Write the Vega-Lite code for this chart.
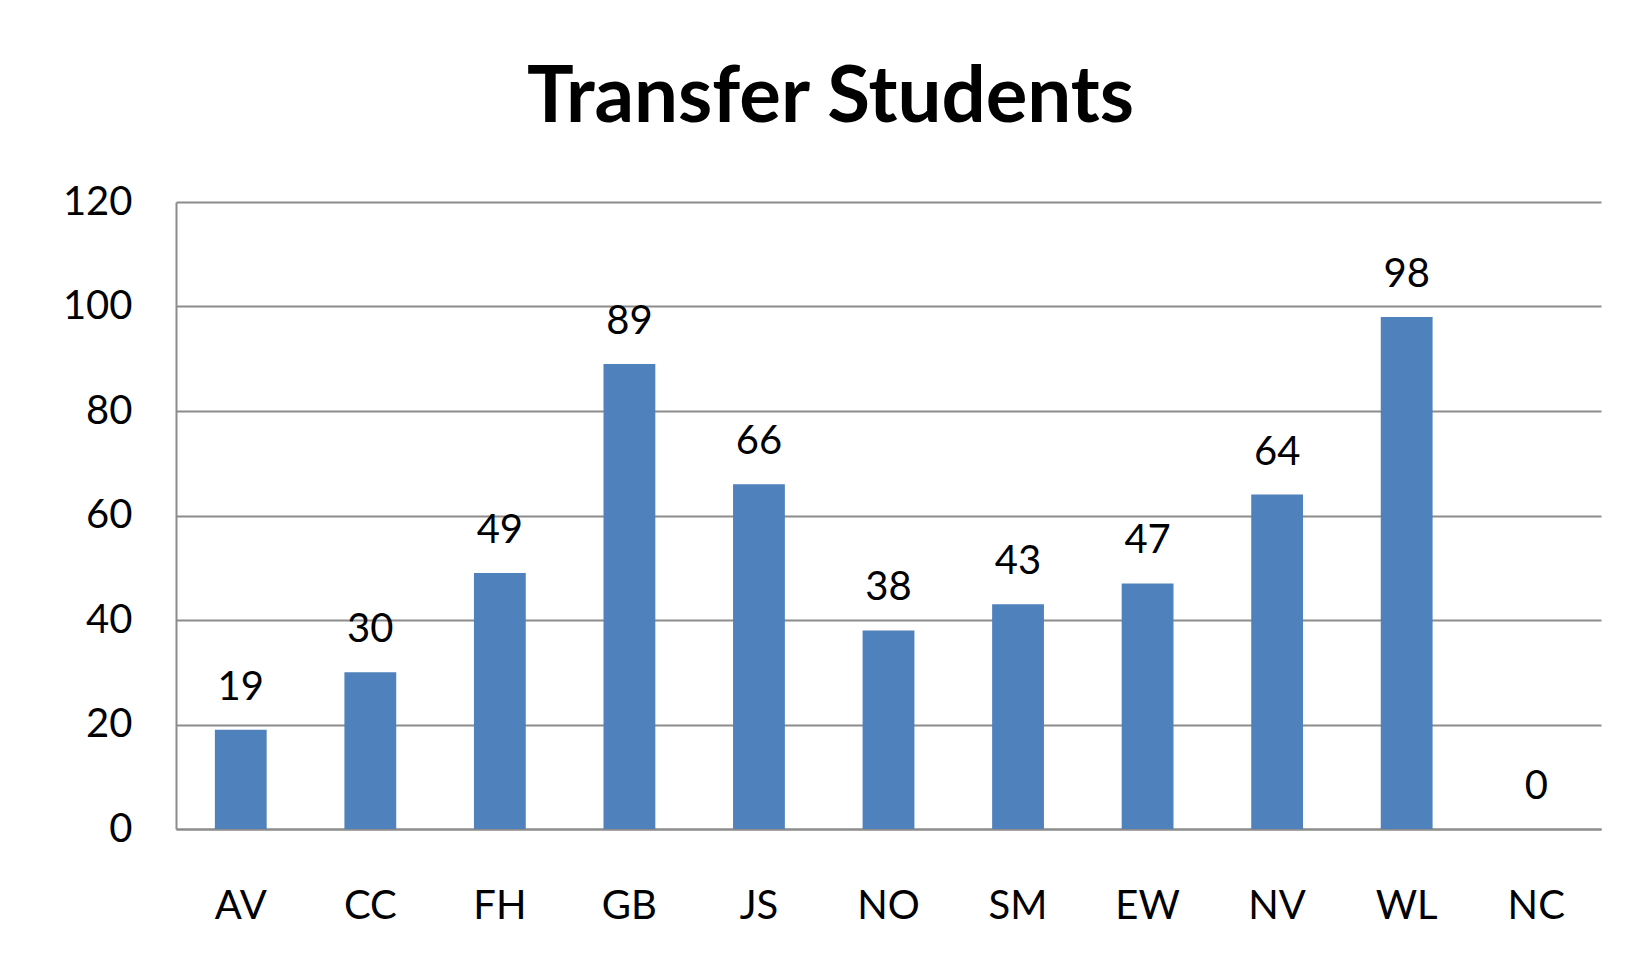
{
  "$schema": "https://vega.github.io/schema/vega-lite/v6.json",
  "width": 1425,
  "height": 627,
  "autosize": {"type": "none"},
  "padding": {"left": 176, "top": 202, "right": 47, "bottom": 149},
  "background": "white",
  "title": {
    "text": "Transfer Students",
    "font": "Lato",
    "fontSize": 78,
    "fontWeight": "bold",
    "color": "#000000",
    "anchor": "middle",
    "frame": "group",
    "dx": -58,
    "dy": 18,
    "baseline": "alphabetic",
    "offset": 0
  },
  "data": {
    "values": [
      {"school": "AV", "students": 19},
      {"school": "CC", "students": 30},
      {"school": "FH", "students": 49},
      {"school": "GB", "students": 89},
      {"school": "JS", "students": 66},
      {"school": "NO", "students": 38},
      {"school": "SM", "students": 43},
      {"school": "EW", "students": 47},
      {"school": "NV", "students": 64},
      {"school": "WL", "students": 98},
      {"school": "NC", "students": 0}
    ]
  },
  "encoding": {
    "x": {
      "field": "school",
      "type": "nominal",
      "sort": null,
      "scale": {"paddingInner": 0.6, "paddingOuter": 0.3},
      "axis": {
        "title": null,
        "labelAngle": 0,
        "labelFont": "Lato",
        "labelFontSize": 40,
        "labelColor": "#000000",
        "labelBaseline": "alphabetic",
        "labelPadding": 89,
        "ticks": false,
        "tickSize": 0,
        "domain": true,
        "domainColor": "#8c8c8c",
        "domainWidth": 2,
        "grid": false
      }
    }
  },
  "layer": [
    {
      "mark": {"type": "bar", "color": "#4F81BD"},
      "encoding": {
        "y": {
          "field": "students",
          "type": "quantitative",
          "scale": {"domain": [0, 120]},
          "axis": {
            "title": null,
            "values": [0, 20, 40, 60, 80, 100, 120],
            "grid": true,
            "gridColor": "#8c8c8c",
            "gridWidth": 2,
            "domain": true,
            "domainColor": "#8c8c8c",
            "domainWidth": 2,
            "ticks": false,
            "tickSize": 0,
            "labelFont": "Lato",
            "labelFontSize": 40,
            "labelColor": "#000000",
            "labelPadding": 44
          }
        }
      }
    },
    {
      "mark": {
        "type": "text",
        "font": "Lato",
        "fontSize": 40,
        "baseline": "alphabetic",
        "dy": -30,
        "color": "#000000"
      },
      "encoding": {
        "y": {"field": "students", "type": "quantitative"},
        "text": {"field": "students", "type": "quantitative"}
      }
    }
  ],
  "config": {"view": {"stroke": null}}
}
